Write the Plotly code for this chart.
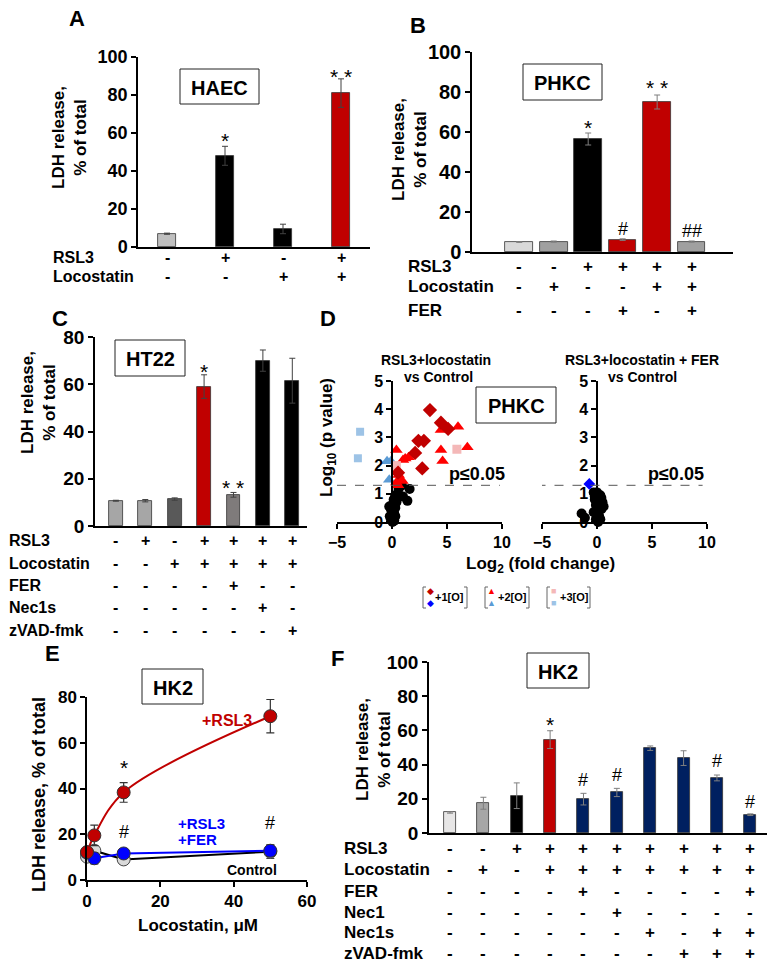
import math
import plotly.graph_objects as go

W, H = 776, 967
FONT = "Liberation Sans, Arial, sans-serif"

# ------------------------------------------------------------------ data
# Panel A (HAEC)
a_values = [7, 48, 9.5, 81]
a_errors = [0.3, 5, 2.5, 7.5]
a_colors = ["#bfbfbf", "#000000", "#000000", "#c00000"]
a_row_labels = ["RSL3", "Locostatin"]
a_rsl3 = ["-", "+", "-", "+"]
a_loco = ["-", "-", "+", "+"]
a_marks = ["", "*", "", "* *"]
a_mark_y = [0, 58, 0, 92]

# Panel B (PHKC)
b_values = [5, 5.2, 56.5, 6.2, 75, 5.2]
b_errors = [0.2, 0.3, 3, 0.4, 3.5, 0.3]
b_colors = ["#d9d9d9", "#a0a0a0", "#000000", "#c00000", "#c00000", "#a0a0a0"]
b_row_labels = ["RSL3", "Locostatin", "FER"]
b_rsl3 = ["-", "-", "+", "+", "+", "+"]
b_loco = ["-", "+", "-", "-", "+", "+"]
b_fer = ["-", "-", "-", "+", "-", "+"]
b_marks = ["", "", "*", "#", "* *", "##"]
b_mark_y = [0, 0, 64, 11.5, 84, 10.5]

# Panel C (HT22)
c_values = [10.7, 10.7, 11.4, 59, 13.2, 70, 61.5]
c_errors = [0.2, 0.5, 0.5, 5, 1, 4.5, 9.5]
c_colors = ["#a6a6a6", "#a6a6a6", "#595959", "#c00000", "#7f7b7b", "#000000", "#000000"]
c_row_labels = ["RSL3", "Locostatin", "FER", "Nec1s", "zVAD-fmk"]
c_rsl3 = ["-", "+", "-", "+", "+", "+", "+"]
c_loco = ["-", "-", "+", "+", "+", "+", "+"]
c_fer = ["-", "-", "-", "-", "+", "-", "-"]
c_nec1s = ["-", "-", "-", "-", "-", "+", "-"]
c_zvad = ["-", "-", "-", "-", "-", "-", "+"]
c_marks = ["", "", "", "*", "* *", "", ""]
c_mark_y = [0, 0, 0, 67, 18, 0, 0]

# Panel D (volcano plots, PHKC)
d1_ox1_x = [3.45, 4.45, 5.1, 2.4, 2.9, 2.1, 2.75, 0.55]
d1_ox1_y = [3.97, 3.52, 3.3, 2.88, 2.88, 2.45, 1.9, 1.75]
d1_ox2_x = [4.45, 6.0, 4.45, 6.85, 4.6, 1.5, 1.2, 0.4, 1.0, 0.6, 0.75, 0.4, 0.95, 0.55]
d1_ox2_y = [3.26, 3.38, 2.55, 2.65, 2.16, 2.3, 2.25, 2.55, 2.2, 1.67, 1.5, 1.4, 1.45, 1.3]
d1_ox3_x = [5.9, 0.4]
d1_ox3_y = [2.58, 2.0]
d1_ox2b_x = [-0.45, -0.1, -0.25]
d1_ox2b_y = [2.15, 2.15, 1.5]
d1_ox3b_x = [-2.9, -3.1]
d1_ox3b_y = [3.2, 2.26]
d1_ns_x = [1.6, 0.6, 0.9, 1.4, 1.0, 0.5, 0.3, 0.2, -0.25, -0.1, 0.1, 0.0, 0.2, 0.3,
           -0.2, 0.1, 0.0, 0.4, 0.2, -0.1, 0.1, 0.0, 0.3, 0.05, 0.15]
d1_ns_y = [1.17, 1.17, 1.3, 0.75, 0.9, 0.85, 0.95, 0.75, 0.55, 0.45, 0.6, 0.35, 0.3, 0.5,
           0.2, 0.15, 0.25, 0.7, 0.05, 0.1, 0.4, 0.6, 0.2, 0.0, 0.8]
d2_ox1b_x = [-0.7]
d2_ox1b_y = [1.35]
d2_ns_x = [-1.4, -1.1, -0.3, 0.0, 0.3, -0.2, 0.2, 0.5, -0.1, 0.1, 0.4, -0.3, 0.0, 0.2,
           0.6, -0.1, 0.3, 0.1, -0.2, 0.0, 0.4, 0.15]
d2_ns_y = [0.3, 0.15, 1.05, 1.05, 0.95, 0.8, 0.75, 0.7, 0.6, 0.5, 0.45, 0.35, 0.3, 0.2,
           0.55, 0.1, 0.1, 0.0, 0.9, 0.65, 0.85, 0.4]
p_threshold = 0.05
d_legend_labels = ["+1[O]", "+2[O]", "+3[O]"]

# Panel E (HK2 dose response)
e_dose = [0, 2, 10, 50]
e_rsl3 = [12.2, 19.5, 38.3, 71.6]
e_rsl3_err = [2, 4.5, 4.3, 7.3]
e_fer = [12, 9.5, 11.6, 12.8]
e_fer_err = [1.5, 2.5, 1.5, 2.5]
e_ctrl = [10.2, 12.8, 9.0, 12.4]
e_ctrl_err = [1.5, 2, 2, 3]
e_star_x = [10, 50]
e_star_y = [51, 84]
e_hash_x = [10, 50]
e_hash_y = [21, 25]

# Panel F (HK2)
f_values = [12, 17.4, 21.8, 54.6, 19.8, 23.7, 49.6, 43.8, 32.2, 10.7]
f_errors = [0.4, 3.5, 7.5, 5.2, 3.4, 2.4, 1.3, 4.3, 1.7, 0.5]
f_colors = ["#e7e6e6", "#a6a6a6", "#000000", "#c00000"] + ["#002060"] * 6
f_row_labels = ["RSL3", "Locostatin", "FER", "Nec1", "Nec1s", "zVAD-fmk"]
f_rsl3 = ["-", "-", "+", "+", "+", "+", "+", "+", "+", "+"]
f_loco = ["-", "+", "-", "+", "+", "+", "+", "+", "+", "+"]
f_fer = ["-", "-", "-", "-", "+", "-", "-", "-", "-", "+"]
f_nec1 = ["-", "-", "-", "-", "-", "+", "-", "-", "-", "-"]
f_nec1s = ["-", "-", "-", "-", "-", "-", "+", "-", "+", "+"]
f_zvad = ["-", "-", "-", "-", "-", "-", "-", "+", "+", "+"]
f_marks = ["", "", "", "*", "#", "#", "", "", "#", "#"]
f_mark_y = [0, 0, 0, 66, 31, 34, 0, 0, 42, 18.3]


# ------------------------------------------------------------------ helpers
def fx(px):
    return px / W


def fy(py):
    return 1 - py / H


def yax(top, bottom, rng, dtick, size=18, **kw):
    d = dict(domain=[fy(bottom), fy(top)], range=rng, dtick=dtick, tick0=0,
             showline=True, linecolor="black", linewidth=1.5, ticks="outside",
             ticklen=5, tickwidth=1.5, tickcolor="black", showgrid=False,
             zeroline=False, fixedrange=True, automargin=False,
             tickfont=dict(family=FONT, size=size, color="black", weight="bold"))
    d.update(kw)
    return d


def xax(left, right, rng, labels=False, dtick=None, size=16, **kw):
    d = dict(domain=[fx(left), fx(right)], range=rng, showline=True,
             linecolor="black", linewidth=1.5, showgrid=False, zeroline=False,
             fixedrange=True, showticklabels=labels, automargin=False,
             ticks="outside" if labels else "", ticklen=5, tickwidth=1.5,
             tickcolor="black",
             tickfont=dict(family=FONT, size=size, color="black", weight="bold"))
    if dtick is not None:
        d["dtick"] = dtick
        d["tick0"] = 0
    d.update(kw)
    return d


annotations = []
shapes = []


def text(x, y, s, size=16, color="black", bold=True, xanchor="center",
         yanchor="middle", angle=0, xref="paper", yref="paper", yshift=0):
    annotations.append(dict(
        x=x if xref != "paper" else fx(x), y=y if yref != "paper" else fy(y),
        xref=xref, yref=yref, text=s, showarrow=False, xanchor=xanchor,
        yanchor=yanchor, textangle=angle, yshift=yshift, borderpad=0,
        font=dict(family=FONT, size=size, color=color,
                  weight="bold" if bold else "normal")))


def box(x0, y0, x1, y1, label, size=20):
    shapes.append(dict(type="rect", xref="paper", yref="paper", x0=fx(x0),
                       x1=fx(x1), y0=fy(y1), y1=fy(y0),
                       line=dict(color="#222", width=1), fillcolor="white"))
    text((x0 + x1) / 2, (y0 + y1) / 2 + 1, label, size=size)


def bracket(x, y0, y1, direction):
    # direction +1: "[" (serifs to the right), -1: "]" (serifs to the left)
    s = 3 * direction
    path = (f"M {fx(x + s)} {fy(y0)} L {fx(x)} {fy(y0)} "
            f"L {fx(x)} {fy(y1)} L {fx(x + s)} {fy(y1)}")
    shapes.append(dict(type="path", xref="paper", yref="paper", path=path,
                       line=dict(color="#666", width=1)))


def sign_rows(xref, labels, rows, label_x, row_ys, size=16):
    for lab, row, yy in zip(labels, rows, row_ys):
        text(label_x, yy, lab, size=size, xanchor="left")
        for i, s in enumerate(row):
            text(i, yy, s, size=size, xref=xref)


def marks(xref, yref, xs, ys, strs, size_star=21, size_hash=18):
    for x, y, s in zip(xs, ys, strs):
        if not s:
            continue
        if "*" in s:
            text(x, y, s, size=size_star, bold=False, xref=xref, yref=yref, yshift=-4)
        else:
            text(x, y, s, size=size_hash, bold=False, xref=xref, yref=yref)


def bar_trace(values, errors, colors, width, axis_idx, err_color="#404040"):
    ax = "" if axis_idx == 1 else str(axis_idx)
    return go.Bar(x=list(range(len(values))), y=values, width=width,
                  marker=dict(color=colors, line=dict(color="#333", width=0.8)),
                  error_y=dict(type="data", array=errors, color=err_color,
                               thickness=1, width=3),
                  xaxis="x" + ax, yaxis="y" + ax, cliponaxis=False)


fig = go.Figure()

# ------------------------------------------------------------------ A
fig.add_trace(bar_trace(a_values, a_errors, a_colors, 0.31, 1))
text(77, 18, "A", size=22)
text(70, 138, "LDH release,<br>% of total", size=17, angle=-90)
box(180, 69, 259, 104, "HAEC")
sign_rows("x", a_row_labels, [a_rsl3, a_loco], 52, [257, 277])
marks("x", "y", range(4), a_mark_y, a_marks)

# ------------------------------------------------------------------ B
fig.add_trace(bar_trace(b_values, b_errors, b_colors, 0.8, 2, err_color="#7f7f7f"))
text(418, 25, "B", size=22)
text(410, 150, "LDH release,<br>% of total", size=17, angle=-90)
box(523, 64, 602, 100, "PHKC")
sign_rows("x2", b_row_labels, [b_rsl3, b_loco, b_fer], 407, [267, 287, 310], size=17)
marks("x2", "y2", range(6), b_mark_y, b_marks)

# ------------------------------------------------------------------ C
fig.add_trace(bar_trace(c_values, c_errors, c_colors, 0.47, 3))
text(60, 318, "C", size=22)
text(38, 403, "LDH release,<br>% of total", size=17, angle=-90)
box(115, 340, 185, 376, "HT22")
sign_rows("x3", c_row_labels, [c_rsl3, c_loco, c_fer, c_nec1s, c_zvad], 8,
          [540, 563, 585, 607, 630])
marks("x3", "y3", range(7), c_mark_y, c_marks)

# ------------------------------------------------------------------ D
def pts(x, y, ax, symbol, color, size):
    return go.Scatter(x=x, y=y, mode="markers", xaxis="x" + ax, yaxis="y" + ax,
                      marker=dict(symbol=symbol, color=color, size=size,
                                  line=dict(width=0)),
                      cliponaxis=False)


fig.add_trace(pts(d1_ns_x, d1_ns_y, "4", "circle", "black", 10))
fig.add_trace(pts(d1_ox3b_x, d1_ox3b_y, "4", "square", "#9dc3e6", 8))
fig.add_trace(pts(d1_ox2b_x, d1_ox2b_y, "4", "triangle-up", "#5b9bd5", 11))
fig.add_trace(pts(d1_ox2_x, d1_ox2_y, "4", "triangle-up", "#ff0000", 11))
fig.add_trace(pts(d1_ox3_x, d1_ox3_y, "4", "square", "#f4b8b8", 9))
fig.add_trace(pts(d1_ox1_x, d1_ox1_y, "4", "diamond", "#c00000", 11))
fig.add_trace(pts(d2_ns_x, d2_ns_y, "5", "circle", "black", 10))
fig.add_trace(pts(d2_ox1b_x, d2_ox1b_y, "5", "diamond", "#0000ff", 9))

thr = -math.log10(p_threshold)
shapes.append(dict(type="line", xref="x4", yref="y4", x0=-5, x1=9.8, y0=thr, y1=thr,
                   line=dict(color="#555", width=1, dash="dash")))
shapes.append(dict(type="line", xref="x5", yref="y5", x0=-5.5, x1=9.6, y0=thr, y1=thr,
                   line=dict(color="#555", width=1, dash="dash")))
text(328, 318, "D", size=22)
text(436, 360, "RSL3+locostatin", size=14)
text(438, 377, "vs Control", size=14)
text(642, 360, "RSL3+locostatin + FER", size=14)
text(642, 377, "vs Control", size=14)
box(476, 387, 556, 423, "PHKC")
text(477, 474, "p≤0.05", size=18)
text(676, 474, "p≤0.05", size=18)
text(328, 438, "Log<sub>10</sub> (p value)", size=17, angle=-90)
text(540, 565, "Log<sub>2</sub> (fold change)", size=17)

# legend for oxidation states
leg = [
    (423, 430, "◆", "#c00000", "◆", "#0000ff", 449, 467),
    (485, 491, "▲", "#ff0000", "▲", "#5b9bd5", 512, 529),
    (547, 553, "■", "#f4b8b8", "■", "#9dc3e6", 574, 590),
]
for (lb, mx, s1, c1, s2, c2, tx, rb), lab in zip(leg, d_legend_labels):
    bracket(lb, 587, 608, 1)
    bracket(rb, 587, 608, -1)
    text(mx, 591, s1, size=9, bold=False, color=c1)
    text(mx, 603, s2, size=9, bold=False, color=c2)
    text(tx, 597, lab, size=11)

# ------------------------------------------------------------------ E
fig.add_trace(go.Scatter(x=e_dose, y=e_ctrl, mode="lines+markers", xaxis="x6", yaxis="y6",
                         line=dict(color="black", width=2),
                         marker=dict(color="#d9d9d9", size=13, line=dict(color="#444", width=1)),
                         error_y=dict(type="data", array=e_ctrl_err, color="#444", thickness=1.2, width=4),
                         cliponaxis=False))
fig.add_trace(go.Scatter(x=e_dose, y=e_fer, mode="lines+markers", xaxis="x6", yaxis="y6",
                         line=dict(color="#0000ff", width=2),
                         marker=dict(color="#0000ff", size=13, line=dict(color="#333", width=1)),
                         error_y=dict(type="data", array=e_fer_err, color="#333", thickness=1.2, width=4),
                         cliponaxis=False))
fig.add_trace(go.Scatter(x=e_dose, y=e_rsl3, mode="lines+markers", xaxis="x6", yaxis="y6",
                         line=dict(color="#c00000", width=2, shape="spline", smoothing=1),
                         marker=dict(color="#c00000", size=13, line=dict(color="#333", width=1)),
                         error_y=dict(type="data", array=e_rsl3_err, color="#333", thickness=1.2, width=4),
                         cliponaxis=False))
text(52, 653, "E", size=22)
text(39, 795, "LDH release, % of total", size=18, angle=-90)
box(142, 669, 203, 704, "HK2")
text(227, 720, "+RSL3", size=16, color="#c00000")
text(177, 823, "+RSL3", size=15, color="#0000ff", xanchor="left")
text(177, 839, "+FER", size=15, color="#0000ff", xanchor="left")
text(252, 870, "Control", size=14)
text(198, 925, "Locostatin, μM", size=17)
marks("x6", "y6", e_star_x, e_star_y, ["*"] * len(e_star_x))
marks("x6", "y6", e_hash_x, e_hash_y, ["#"] * len(e_hash_x))

# ------------------------------------------------------------------ F
fig.add_trace(bar_trace(f_values, f_errors, f_colors, 0.36, 7, err_color="#7f7f7f"))
text(337, 658, "F", size=22)
text(373, 750, "LDH release,<br>% of total", size=17, angle=-90)
box(527, 653, 589, 688, "HK2")
sign_rows("x7", f_row_labels, [f_rsl3, f_loco, f_fer, f_nec1, f_nec1s, f_zvad], 343,
          [848, 869, 891, 912, 932, 953], size=17)
marks("x7", "y7", range(10), f_mark_y, f_marks)

# ------------------------------------------------------------------ layout
fig.update_layout(
    width=W, height=H, autosize=False, margin=dict(l=0, r=0, t=0, b=0, pad=0),
    paper_bgcolor="white", plot_bgcolor="white", showlegend=False,
    font=dict(family=FONT, color="black"),
    bargap=0,
    xaxis=xax(138, 370, [-0.5, 3.5], anchor="y"),
    yaxis=yax(57, 247, [0, 100], 20, anchor="x"),
    xaxis2=xax(472, 733, [-1.37, 6.2], anchor="y2"),
    yaxis2=yax(52, 252, [0, 100], 20, size=20, anchor="x2"),
    xaxis3=xax(95, 307, [-0.71, 6.5], anchor="y3"),
    yaxis3=yax(337, 526, [0, 80], 20, size=19, anchor="x3"),
    xaxis4=xax(337, 502, [-5, 10], labels=True, dtick=5, size=16, anchor="y4"),
    yaxis4=yax(381, 522, [0, 5], 1, size=16, anchor="free", position=fx(392)),
    xaxis5=xax(542, 707, [-5, 10], labels=True, dtick=5, size=16, anchor="y5"),
    yaxis5=yax(381, 522, [0, 5], 1, size=16, anchor="free", position=fx(597)),
    xaxis6=xax(87, 307, [0, 60], labels=True, dtick=20, size=17, anchor="y6"),
    yaxis6=yax(697, 880, [0, 80], 20, size=17, anchor="x6"),
    xaxis7=xax(429, 767, [-0.63, 9.5], anchor="y7"),
    yaxis7=yax(662, 833, [0, 100], 20, size=19, anchor="x7"),
    annotations=annotations,
    shapes=shapes,
)

fig.write_html("out.html", config={"displayModeBar": False},
               post_script="document.body.style.margin='0';")
